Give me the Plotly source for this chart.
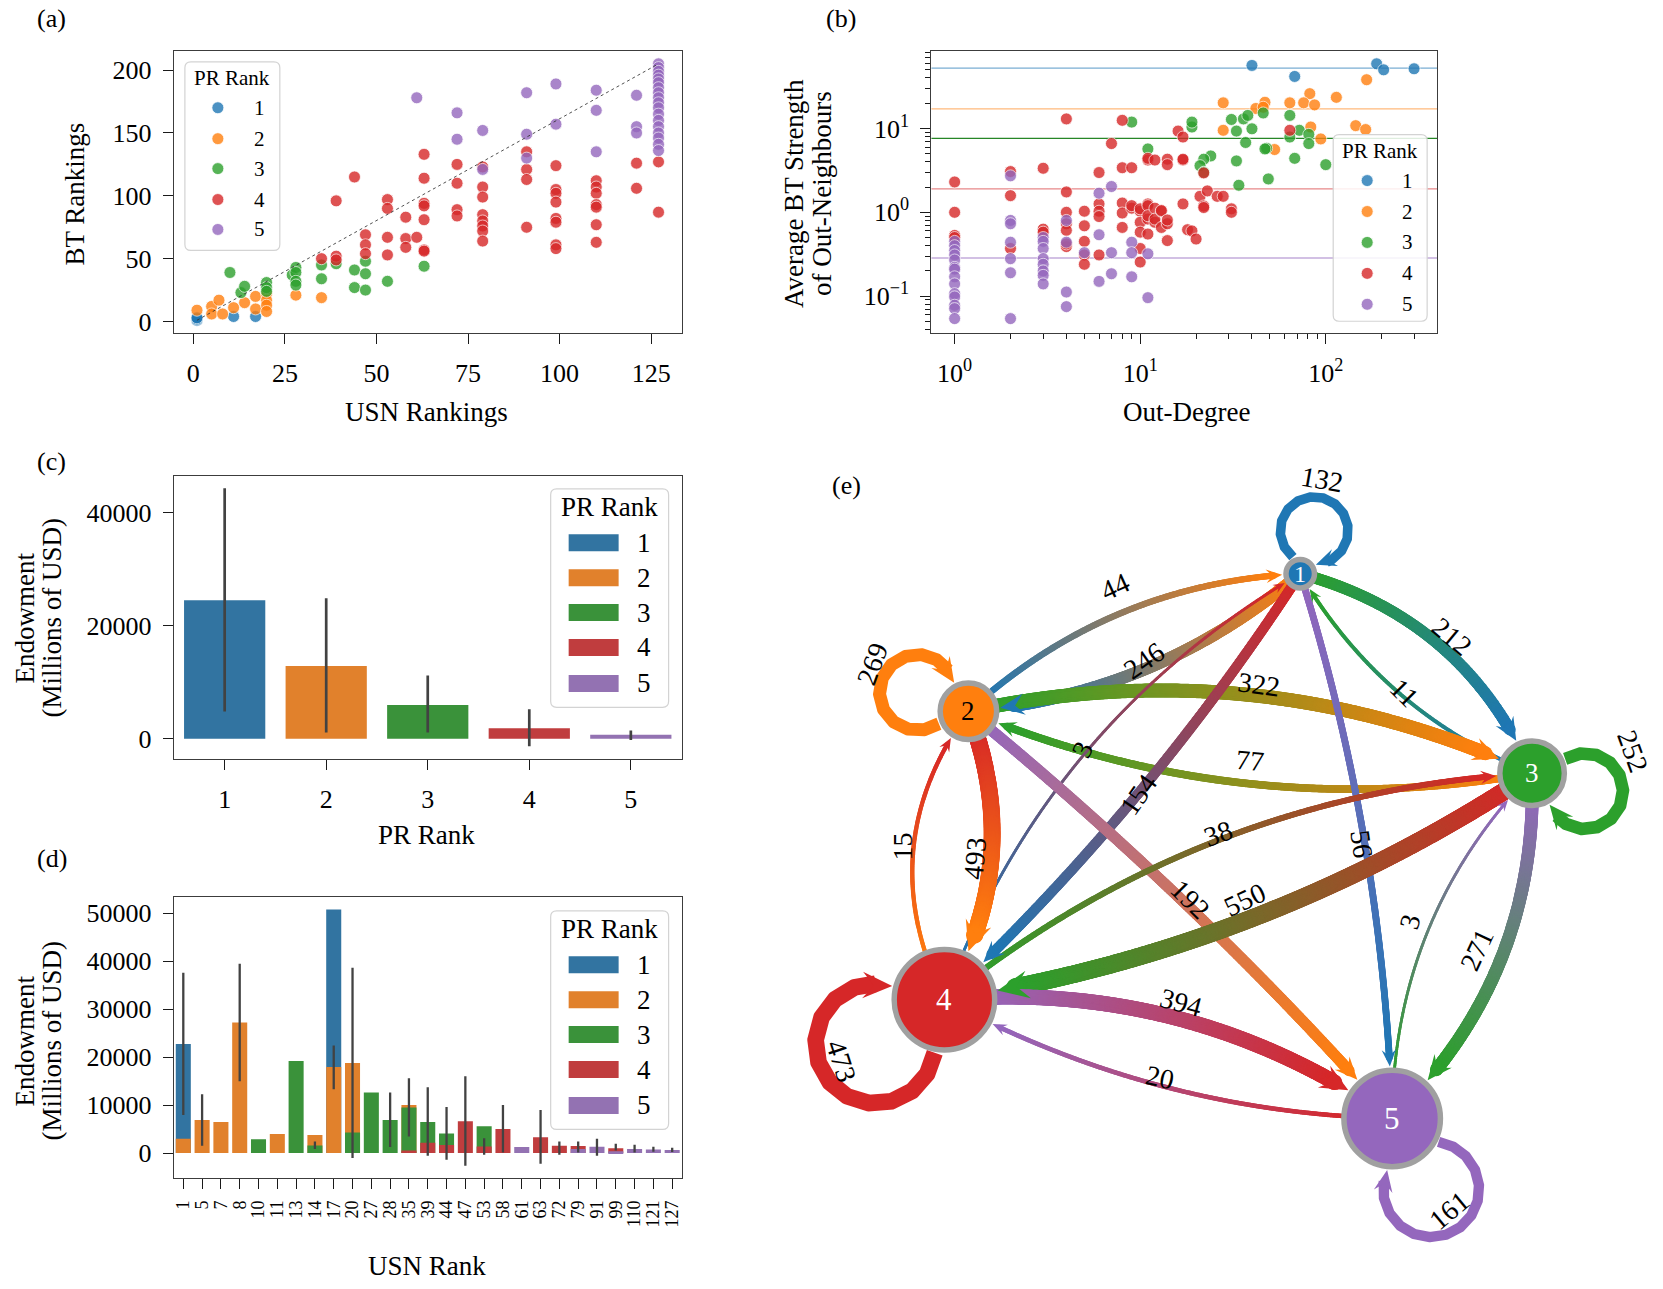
import numpy as np
import plotly.graph_objects as go

W, H = 1663, 1289
SERIF = "Liberation Serif, Times New Roman, DejaVu Serif, serif"

# ---------------- data ----------------
PR_LABELS = ['1', '2', '3', '4', '5']
TAB = ['#1f77b4', '#ff7f0e', '#2ca02c', '#d62728', '#9467bd']
SNS = ['#3274a1', '#e1812c', '#3a923a', '#c03d3e', '#9372b2']

# (a) USN ranking vs BT ranking, by PR rank
a1_usn = [1, 1, 1, 11, 17]
a1_bt = [1, 2, 3, 4, 4]
a2_usn = [1, 5, 5, 7, 8, 11, 14, 17, 17, 20, 20, 20, 20, 28, 35]
a2_bt = [9, 12, 6, 17, 6, 11, 15, 20, 10, 22, 17, 13, 8, 21, 19]
a3_usn = [10, 13, 14, 20, 20, 20, 27, 28, 28, 28, 28, 35, 35, 39, 44, 44, 47, 47, 47, 53, 63]
a3_bt = [39, 23, 28, 31, 27, 24, 37, 43, 39, 32, 29, 45, 34, 46, 41, 27, 48, 38, 25, 32, 44]
a4_usn = [35, 39, 39, 39, 44, 47, 47, 47, 53, 53, 53, 53, 58, 58, 58, 61,
          63, 63, 63, 63, 63, 63, 63, 72, 72, 72, 72,
          79, 79, 79, 79, 79, 79, 79, 79, 91, 91, 91, 91,
          99, 99, 99, 99, 99, 99, 99, 99, 110, 110, 110, 110, 110, 110, 110,
          121, 121, 127, 127]
a4_bt = [50, 52, 49, 96, 115, 69, 61, 54, 97, 90, 67, 53, 83, 66, 59, 67,
         133, 114, 94, 92, 81, 57, 56, 125, 110, 89, 84,
         123, 107, 99, 85, 80, 76, 72, 64, 135, 121, 113, 75,
         124, 105, 102, 95, 82, 79, 61, 58, 112, 107, 102, 93, 91, 77, 63,
         126, 106, 127, 87]
a5_usn = [61, 72, 72, 79, 79, 91, 91, 91, 99, 99, 110, 110, 110, 121, 121, 121,
          127, 127, 127, 127, 127, 127, 127, 127, 127, 127, 127, 127, 127, 127, 127, 127, 127, 127]
a5_bt = [178, 166, 145, 152, 121, 182, 149, 130, 189, 157, 184, 168, 135, 180, 155, 150,
         205, 202, 199, 196, 193, 190, 186, 182, 178, 174, 170, 165, 160, 155, 150, 146, 141, 136]

# (b) out-degree vs average BT strength of out-neighbours
b1_deg = [40, 68, 188, 205, 299]
b1_str = [56.4, 41.7, 59, 50, 51.5]
b2_deg = [166, 82, 114, 28, 47, 42, 46, 64, 76, 87, 28, 83, 145, 164, 94, 53]
b2_str = [38.1, 26, 23.5, 20.2, 20.5, 17.3, 17.9, 20.2, 20.2, 19.1, 9.5, 10.4, 10.8, 9.7, 7.5, 5.6]
b3_deg = [9, 11, 19, 19, 31, 36, 38, 46, 33, 40, 64, 72, 81, 64, 81, 37, 48, 47, 24, 22, 33, 21, 22, 68, 100, 49, 34]
b3_str = [11.9, 5.7, 10.4, 11.9, 12.8, 13, 14.3, 15.3, 9.3, 9.9, 14.3, 9.5, 8.5, 7.9, 6.6, 6.8, 5.8, 5.7,
          4.7, 4.3, 4.1, 3.6, 3.0, 4.4, 3.7, 2.5, 2.1]
b4_deg = [1, 1, 1, 1, 2, 2, 2, 3, 3, 3, 4, 4, 4, 4, 4, 4, 4, 5, 5, 5, 5, 5, 6, 6, 6, 6, 6, 7,
          8, 8, 8, 8, 8, 9, 9, 9, 10, 10, 10, 10, 10, 10, 11, 11, 11, 11, 11, 11, 11,
          12, 12, 12, 12, 13, 13, 13, 14, 14, 14, 14, 14, 16, 17, 17, 17, 17, 18, 19, 20,
          21, 22, 22, 22, 23, 26, 28, 31, 31, 64]
b4_str = [2.3, 1.0, 0.53, 0.50, 3.06, 1.58, 0.37, 3.35, 0.63, 0.58, 13, 1.75, 1.0, 0.73, 0.61, 0.39, 0.42,
          1.03, 0.69, 0.45, 0.31, 0.24, 2.98, 1.26, 1.03, 0.89, 0.31, 6.6,
          12.5, 3.4, 1.29, 0.98, 0.66, 3.4, 1.12, 1.2, 1.03, 0.76, 0.58, 0.37, 0.255, 1.1,
          4.2, 4.4, 1.26, 0.83, 0.55, 1.2, 0.91, 4.2, 1.12, 0.76, 0.83, 1.03, 0.66, 1.05,
          4.3, 3.7, 0.73, 0.46, 0.81, 9.3, 7.9, 4.2, 4.3, 1.26, 0.62, 0.60, 0.48,
          1.55, 1.19, 1.14, 2.95, 1.8, 1.55, 1.55, 1.1, 1.0, 9.5]
b5_deg = [1, 1, 1, 1, 1, 1, 1, 1, 1, 1, 1, 1, 1, 1, 2, 2, 2, 2, 2, 2, 2,
          3, 3, 3, 3, 3, 3, 3, 3, 4, 4, 4, 4, 5, 6, 6, 6, 7, 7, 7, 9, 9, 9, 11, 11]
b5_str = [0.45, 0.40, 0.35, 0.31, 0.27, 0.22, 0.21, 0.17, 0.14, 0.107, 0.098, 0.078, 0.071, 0.054,
          2.72, 0.80, 0.73, 0.44, 0.28, 0.19, 0.054,
          0.50, 0.45, 0.37, 0.28, 0.24, 0.20, 0.177, 0.14, 0.80, 0.44, 0.112, 0.075, 0.33,
          1.69, 0.54, 0.15, 2.03, 0.33, 0.185, 0.44, 0.33, 0.17, 0.32, 0.096]
b_rank_mean = [52.5, 17.1, 7.6, 1.9, 0.285]

# (c) endowment by PR rank (mean and CI)
c_mean = [24520, 12900, 5980, 1860, 740]
c_lo = [4850, 1110, 1110, -1320, -190]
c_hi = [44300, 24870, 11200, 5220, 1490]

# (d) endowment by USN rank, coloured by PR rank
d_usn = ['1', '5', '7', '8', '10', '11', '13', '14', '17', '20', '27', '28', '35', '39', '44', '47',
         '53', '58', '61', '63', '72', '79', '91', '99', '110', '121', '127']
d_pr1 = [22760, None, None, None, None, None, None, None, 50760, None, None, None, None, None, None, None,
         None, None, None, None, None, None, None, None, None, None, None]
d_pr2 = [2970, 6900, 6480, 27240, None, 4000, None, 3790, 17930, 18760, None, None, 10000, None, None, None,
         None, None, None, None, None, None, None, None, None, None, None]
d_pr3 = [None, None, None, None, 2900, None, 19170, 1590, None, 4280, 12620, 6900, 9520, 6480, 4070, None,
         5590, None, None, None, None, None, None, None, None, None, None]
d_pr4 = [None, None, None, None, None, None, None, None, None, None, None, None, 550, 2140, 1660, 6620,
         1380, 5030, None, 3310, 1520, 1450, None, 1030, None, None, None]
d_pr5 = [None, None, None, None, None, None, None, None, None, None, None, None, None, None, None, None,
         None, None, 1240, None, None, 830, 1310, 400, 830, 760, 650]
d_ci_usn = ['1', '5', '8', '14', '17', '20', '28', '35', '39', '44', '47', '53', '58', '63', '72', '79',
            '91', '99', '110', '121', '127']
d_ci_lo = [7930, 1520, 14970, 830, 13310, -1030, 1240, 3450, -550, -1380, -2620, -340, 140, -2210, -340, 140,
           -550, 550, 140, 300, 200]
d_ci_hi = [37600, 12280, 39450, 2410, 22410, 38620, 12620, 15590, 13720, 9590, 16000, 3100, 10000, 8970, 2410,
           2410, 2970, 1930, 1720, 1300, 1100]

# (e) flows between PR ranks
e_src = [2, 1, 1, 3, 2, 3, 1, 4, 1, 2, 4, 2, 3, 4, 3, 5, 4, 5]
e_dst = [1, 2, 3, 1, 3, 2, 4, 1, 5, 4, 2, 5, 4, 3, 5, 3, 5, 4]
e_w = [44, 246, 212, 11, 322, 77, 154, 3, 56, 493, 15, 192, 550, 38, 271, 3, 394, 20]
loop_node = [1, 2, 3, 4, 5]
loop_w = [132, 269, 252, 473, 161]

# ---------------- layout constants (pixels) ----------------
NODE_XY = {1: (1300, 575), 2: (968, 713), 3: (1532, 775), 4: (944, 1002), 5: (1392, 1121)}
NODE_R = {1: 17, 2: 31, 3: 35, 4: 53, 5: 51}
NODE_FS = {1: 24, 2: 27, 3: 27, 4: 31, 5: 31}
NODE_TXT = {1: 'white', 2: 'black', 3: 'white', 4: 'white', 5: 'white'}
RING = 5.5
BULGE = [0.09, 0.08, 0.12, 0.085, 0.083, 0.073, 0.03, 0.09, 0.034, 0.12, 0.15, 0.02,
         0.055, 0.08, 0.11, 0.10, 0.09, 0.06]
E_LAB_XY = [(1115, 588), (1144, 662), (1452, 638), (1404, 694), (1259, 686), (1250, 762),
            (1138, 796), (1082, 751), (1362, 846), (974, 860), (902, 848), (1190, 902),
            (1245, 902), (1218, 835), (1477, 952), (1410, 924), (1181, 1005), (1160, 1080)]
E_LAB_ANG = [-25, -35, 40, 45, 8, 5, -55, -65, 82, -85, -90, 45, -25, -20, -65, -75, 15, 12]
LOOP_C = {1: (1314, 532), 2: (917, 694), 3: (1585, 793), 4: (875, 1046), 5: (1431, 1192)}
LOOP_RHO = {1: 34, 2: 38, 3: 38, 4: 60, 5: 48}
L_LAB_XY = [(1322, 481), (872, 665), (1633, 753), (841, 1064), (1449, 1213)]
L_LAB_ANG = [10, -70, 70, 72, -40]


def hex2rgb(h):
    return np.array([int(h[i:i + 2], 16) for i in (1, 3, 5)], dtype=float)


def rgba(h, a):
    r, g, b = hex2rgb(h)
    return f'rgba({int(r)},{int(g)},{int(b)},{a})'


def width_of(w):
    return 1.064 * (1.5 + 0.65 * np.sqrt(w))


def arclen(pts):
    seg = np.hypot(*np.diff(pts, axis=0).T)
    return np.concatenate([[0], np.cumsum(seg)])


def resample(pts, spacing):
    cum = arclen(pts)
    n = max(int(cum[-1] / spacing), 2)
    s = np.linspace(0, cum[-1], n)
    return np.column_stack([np.interp(s, cum, pts[:, 0]), np.interp(s, cum, pts[:, 1])])


def arrow_geom(pts, w):
    """pts ends at the arrow tip. returns arrow polygon and trimmed body."""
    cum = arclen(pts)
    L = 8 + 1.3 * w
    hw = 3 + 0.62 * w
    tip = pts[-1]
    j = np.searchsorted(cum, cum[-1] - L)
    u = tip - pts[j]
    u = u / np.hypot(*u)
    p = np.array([-u[1], u[0]])
    base = tip - u * L
    poly = [tip, base + p * hw, tip - u * 0.62 * L, base - p * hw, tip]
    k = np.searchsorted(cum, cum[-1] - 0.62 * L + 1.5)
    return poly, pts[:k + 1]


fig = go.Figure()

# ---------------- (a) ----------------
a_sets = [(a1_usn, a1_bt), (a2_usn, a2_bt), (a3_usn, a3_bt), (a4_usn, a4_bt), (a5_usn, a5_bt)]
for k, (xs, ys) in enumerate(a_sets):
    fig.add_trace(go.Scatter(x=xs, y=ys, mode='markers', xaxis='x', yaxis='y', showlegend=False,
                             marker=dict(size=12, color=TAB[k], opacity=0.8,
                                         line=dict(color='white', width=0.8))))
all_usn = sum([s[0] for s in a_sets], [])
all_bt = sum([s[1] for s in a_sets], [])
fig.add_trace(go.Scatter(x=[min(all_usn), max(all_usn)], y=[min(all_bt), max(all_bt)], mode='lines',
                         xaxis='x', yaxis='y', showlegend=False,
                         line=dict(color='rgba(50,50,50,0.85)', width=1, dash='dot')))

# ---------------- (b) ----------------
b_sets = [(b1_deg, b1_str), (b2_deg, b2_str), (b3_deg, b3_str), (b4_deg, b4_str), (b5_deg, b5_str)]
line_alpha = [0.6, 0.55, 0.95, 0.55, 0.55]
line_col = ['#1f77b4', '#ff7f0e', '#1a7f1a', '#d62728', '#9467bd']
for k, v in enumerate(b_rank_mean):
    fig.add_trace(go.Scatter(x=[0.5, 1000], y=[v, v], mode='lines', xaxis='x2', yaxis='y2', showlegend=False,
                             line=dict(color=rgba(line_col[k], line_alpha[k]), width=1.3)))
for k, (xs, ys) in enumerate(b_sets):
    fig.add_trace(go.Scatter(x=xs, y=ys, mode='markers', xaxis='x2', yaxis='y2', showlegend=False,
                             marker=dict(size=12, color=TAB[k], opacity=0.8,
                                         line=dict(color='white', width=0.8))))

# ---------------- (c) ----------------
for k in range(5):
    fig.add_trace(go.Bar(x=[PR_LABELS[k]], y=[c_mean[k]], xaxis='x3', yaxis='y3', width=0.8,
                         marker=dict(color=SNS[k], line=dict(width=0)), showlegend=False))
cx, cy = [], []
for k in range(5):
    cx += [PR_LABELS[k], PR_LABELS[k], None]
    cy += [c_lo[k], c_hi[k], None]
fig.add_trace(go.Scatter(x=cx, y=cy, mode='lines', xaxis='x3', yaxis='y3', showlegend=False,
                         line=dict(color='#424242', width=2.7)))

# ---------------- (d) ----------------
for k, vals in enumerate([d_pr1, d_pr2, d_pr3, d_pr4, d_pr5]):
    fig.add_trace(go.Bar(x=d_usn, y=vals, xaxis='x4', yaxis='y4', width=0.8,
                         marker=dict(color=SNS[k], line=dict(width=0)), showlegend=False))
dx, dy = [], []
for u, lo, hi in zip(d_ci_usn, d_ci_lo, d_ci_hi):
    dx += [u, u, None]
    dy += [lo, hi, None]
fig.add_trace(go.Scatter(x=dx, y=dy, mode='lines', xaxis='x4', yaxis='y4', showlegend=False,
                         line=dict(color='#424242', width=2.3)))

# ---------------- (e) network (pixel axes x5/y5) ----------------
arrow_polys = {n: [] for n in range(1, 6)}
for i, (s, t, wt) in enumerate(zip(e_src, e_dst, e_w)):
    P0 = np.array(NODE_XY[s], float)
    P2 = np.array(NODE_XY[t], float)
    d = P2 - P0
    Ld = np.hypot(*d)
    nrm = np.array([d[1], -d[0]]) / Ld
    P1 = (P0 + P2) / 2 + nrm * 2 * BULGE[i] * Ld
    tt = np.linspace(0, 1, 3000)[:, None]
    pts = (1 - tt) ** 2 * P0 + 2 * (1 - tt) * tt * P1 + tt ** 2 * P2
    ds = np.hypot(*(pts - P0).T)
    dt = np.hypot(*(pts - P2).T)
    i0 = np.where(ds >= NODE_R[s] * 0.7)[0][0]
    it = np.where(dt >= NODE_R[t] + 1)[0][-1]
    w = width_of(wt)
    poly, body = arrow_geom(pts[i0:it + 1], w)
    arrow_polys[s].append(poly)
    body = resample(body, min(1.0, w / 4))
    frac = np.linspace(0, 1, len(body))
    c0, c1 = hex2rgb(TAB[t - 1]), hex2rgb(TAB[s - 1])
    cols = ['rgb(%d,%d,%d)' % tuple(np.round(c0 + (c1 - c0) * f)) for f in frac]
    fig.add_trace(go.Scatter(x=body[:, 0], y=body[:, 1], mode='markers', xaxis='x5', yaxis='y5',
                             showlegend=False, hoverinfo='skip',
                             marker=dict(size=w, color=cols, opacity=1, line=dict(width=0))))

for nd, wt in zip(loop_node, loop_w):
    C = np.array(LOOP_C[nd], float)
    N = np.array(NODE_XY[nd], float)
    rho = LOOP_RHO[nd]
    phi = np.arctan2(N[1] - C[1], N[0] - C[0])
    th = np.linspace(phi, phi + 2 * np.pi, 3000)
    P = np.column_stack([C[0] + rho * np.cos(th), C[1] + rho * np.sin(th)])
    out = np.hypot(*(P - N).T) > NODE_R[nd] + 1
    idx = np.where(out)[0]
    arc = P[idx[0]:idx[-1] + 1]
    w = width_of(wt)
    poly, body = arrow_geom(arc, w)
    arrow_polys[nd].append(poly)
    fig.add_trace(go.Scatter(x=body[:, 0], y=body[:, 1], mode='lines', xaxis='x5', yaxis='y5',
                             showlegend=False, hoverinfo='skip',
                             line=dict(color=TAB[nd - 1], width=w)))

for nd in range(1, 6):
    xs, ys = [], []
    for poly in arrow_polys[nd]:
        xs += [p[0] for p in poly] + [None]
        ys += [p[1] for p in poly] + [None]
    fig.add_trace(go.Scatter(x=xs, y=ys, mode='lines', fill='toself', fillcolor=TAB[nd - 1],
                             xaxis='x5', yaxis='y5', showlegend=False, hoverinfo='skip',
                             line=dict(width=0, color=TAB[nd - 1])))

fig.add_trace(go.Scatter(x=[NODE_XY[n][0] for n in range(1, 6)], y=[NODE_XY[n][1] for n in range(1, 6)],
                         mode='markers', xaxis='x5', yaxis='y5', showlegend=False, hoverinfo='skip',
                         marker=dict(size=[2 * NODE_R[n] - RING for n in range(1, 6)], color=TAB, opacity=1,
                                     line=dict(color='rgb(160,160,160)', width=RING))))

annotations = []
shapes = []


def txt(text, x, y, size=27, angle=0, color='black', xanchor='center'):
    annotations.append(dict(text=text, x=x, y=y, xref='x5', yref='y5', showarrow=False,
                            textangle=angle, xanchor=xanchor, yanchor='middle',
                            font=dict(family=SERIF, size=size, color=color)))


for n in range(1, 6):
    txt(PR_LABELS[n - 1], NODE_XY[n][0], NODE_XY[n][1], size=NODE_FS[n], color=NODE_TXT[n])
for i, wt in enumerate(e_w):
    txt(str(wt), E_LAB_XY[i][0], E_LAB_XY[i][1], size=28, angle=E_LAB_ANG[i])
for i, wt in enumerate(loop_w):
    txt(str(wt), L_LAB_XY[i][0], L_LAB_XY[i][1], size=28, angle=L_LAB_ANG[i])

# panel letters
for lab, (x, y) in zip(['(a)', '(b)', '(c)', '(d)', '(e)'],
                       [(51, 19), (841, 19), (51, 463), (51, 860), (846, 487)]):
    txt(lab, x, y, size=26)

# axis titles
txt('BT Rankings', 74, 194, size=27, angle=-90)
txt('USN Rankings', 426, 413, size=27)
txt('Average BT Strength', 793, 194, size=27, angle=-90)
txt('of Out-Neighbours', 821, 194, size=27, angle=-90)
txt('Out-Degree', 1186, 413, size=27)
txt('Endowment', 24, 619, size=27, angle=-90)
txt('(Millions of USD)', 51, 619, size=27, angle=-90)
txt('PR Rank', 426, 837, size=27)
txt('Endowment', 24, 1043, size=27, angle=-90)
txt('(Millions of USD)', 51, 1043, size=27, angle=-90)
txt('USN Rank', 426, 1269, size=27)


def rrect(x0, y0, x1, y1, r):
    return (f"M{x0 + r},{y0} L{x1 - r},{y0} Q{x1},{y0} {x1},{y0 + r} L{x1},{y1 - r} Q{x1},{y1} {x1 - r},{y1} "
            f"L{x0 + r},{y1} Q{x0},{y1} {x0},{y1 - r} L{x0},{y0 + r} Q{x0},{y0} {x0 + r},{y0} Z")


def legend_box(x0, y0, x1, y1):
    shapes.append(dict(type='path', path=rrect(x0, y0, x1, y1, 6), xref='x5', yref='y5',
                       fillcolor='rgba(255,255,255,0.85)', line=dict(color='#d3d3d3', width=1.2), layer='above'))


def scatter_legend(box, title_y, mk_x, lab_x, ys, fs):
    legend_box(*box)
    txt('PR Rank', (box[0] + box[2]) / 2, title_y, size=fs)
    for k, yv in enumerate(ys):
        shapes.append(dict(type='circle', x0=mk_x - 6, x1=mk_x + 6, y0=yv - 6, y1=yv + 6, xref='x5', yref='y5',
                           fillcolor=rgba(TAB[k], 0.8), line=dict(color='white', width=0.8), layer='above'))
        txt(PR_LABELS[k], lab_x, yv, size=fs)


def bar_legend(box, title_y, px0, px1, lab_x, ys, fs):
    legend_box(*box)
    txt('PR Rank', (box[0] + box[2]) / 2, title_y, size=fs)
    for k, yv in enumerate(ys):
        shapes.append(dict(type='rect', x0=px0, x1=px1, y0=yv - 8.5, y1=yv + 8.5, xref='x5', yref='y5',
                           fillcolor=SNS[k], line=dict(width=0), layer='above'))
        txt(PR_LABELS[k], lab_x, yv, size=fs)


scatter_legend((184, 62, 279, 251), 78, 217, 259, [108, 139, 169, 200, 230], 21)
scatter_legend((1333, 135, 1427, 322), 151, 1367, 1407, [181, 212, 243, 274, 305], 21)
bar_legend((550, 490, 668, 709), 508, 568, 618, 643, [544, 579, 614, 649, 685], 27)
bar_legend((550, 913, 668, 1132), 931, 568, 618, 643, [967, 1002, 1037, 1072, 1108], 27)


# ---------------- axes ----------------
def axstyle(**kw):
    d = dict(showline=True, mirror=True, linecolor='#3c3c3c', linewidth=1.3,
             ticks='outside', ticklen=10, tickwidth=1.4, tickcolor='#1a1a1a',
             showgrid=False, zeroline=False, ticklabelstandoff=6,
             tickfont=dict(family=SERIF, size=26, color='black'))
    d.update(kw)
    return d


XA = [173 / W, 681 / W]
YA = [1 - 334 / H, 1 - 51 / H]
XB = [931 / W, 1437 / W]
YC = [1 - 761 / H, 1 - 477 / H]
YD = [1 - 1181 / H, 1 - 899 / H]

minor_x = [2, 3, 4, 5, 6, 7, 8, 9, 20, 30, 40, 50, 60, 70, 80, 90, 200, 300]
minor_y = [0.04, 0.05, 0.06, 0.07, 0.08, 0.09, 0.2, 0.3, 0.4, 0.5, 0.6, 0.7, 0.8, 0.9,
           2, 3, 4, 5, 6, 7, 8, 9, 20, 30, 40, 50, 60, 70, 80]
minor_style = dict(ticks='outside', ticklen=5, tickwidth=1, tickcolor='#1a1a1a', showgrid=False)
c_ticks = [0, 20000, 40000]
d_ticks = [0, 10000, 20000, 30000, 40000, 50000]

fig.update_layout(
    width=W, height=H, margin=dict(l=0, r=0, t=0, b=0), autosize=False,
    paper_bgcolor='white', plot_bgcolor='rgba(0,0,0,0)', showlegend=False,
    barmode='overlay', bargap=0.2,
    xaxis=axstyle(domain=XA, anchor='y', range=[-5.3, 133.3], tickvals=[0, 25, 50, 75, 100, 125]),
    yaxis=axstyle(domain=YA, anchor='x', range=[-9.3, 215.3], tickvals=[0, 50, 100, 150, 200]),
    xaxis2=axstyle(domain=XB, anchor='y2', type='log', range=[-0.125, 2.6], tickvals=[1, 10, 100],
                   ticktext=['10<sup>0</sup>', '10<sup>1</sup>', '10<sup>2</sup>'],
                   minor=dict(tickvals=minor_x, **minor_style)),
    yaxis2=axstyle(domain=YA, anchor='x2', type='log', range=[-1.442, 1.925], tickvals=[0.1, 1, 10],
                   ticktext=['10<sup>\u22121</sup>', '10<sup>0</sup>', '10<sup>1</sup>'],
                   minor=dict(tickvals=minor_y, **minor_style)),
    xaxis3=axstyle(domain=XA, anchor='y3', type='category', categoryorder='array', categoryarray=PR_LABELS,
                   range=[-0.5, 4.5], tickmode='array', tickvals=PR_LABELS, ticktext=PR_LABELS),
    yaxis3=axstyle(domain=YC, anchor='x3', range=[-3600, 46500], tickmode='array', tickvals=c_ticks,
                   ticktext=[str(v) for v in c_ticks]),
    xaxis4=axstyle(domain=XA, anchor='y4', type='category', categoryorder='array', categoryarray=d_usn,
                   range=[-0.5, 26.5], tickangle=-90, tickmode='array', tickvals=d_usn, ticktext=d_usn,
                   tickfont=dict(family=SERIF, size=18, color='black'), ticklabelstandoff=4),
    yaxis4=axstyle(domain=YD, anchor='x4', range=[-5250, 53400], tickmode='array', tickvals=d_ticks,
                   ticktext=[str(v) for v in d_ticks]),
    xaxis5=dict(domain=[0, 1], anchor='y5', range=[0, W], visible=False, fixedrange=True),
    yaxis5=dict(domain=[0, 1], anchor='x5', range=[H, 0], visible=False, fixedrange=True),
    annotations=annotations, shapes=shapes,
)

fig.write_html("out.html", config={'displayModeBar': False},
               post_script="document.body.style.margin='0';document.body.style.overflow='hidden';")
